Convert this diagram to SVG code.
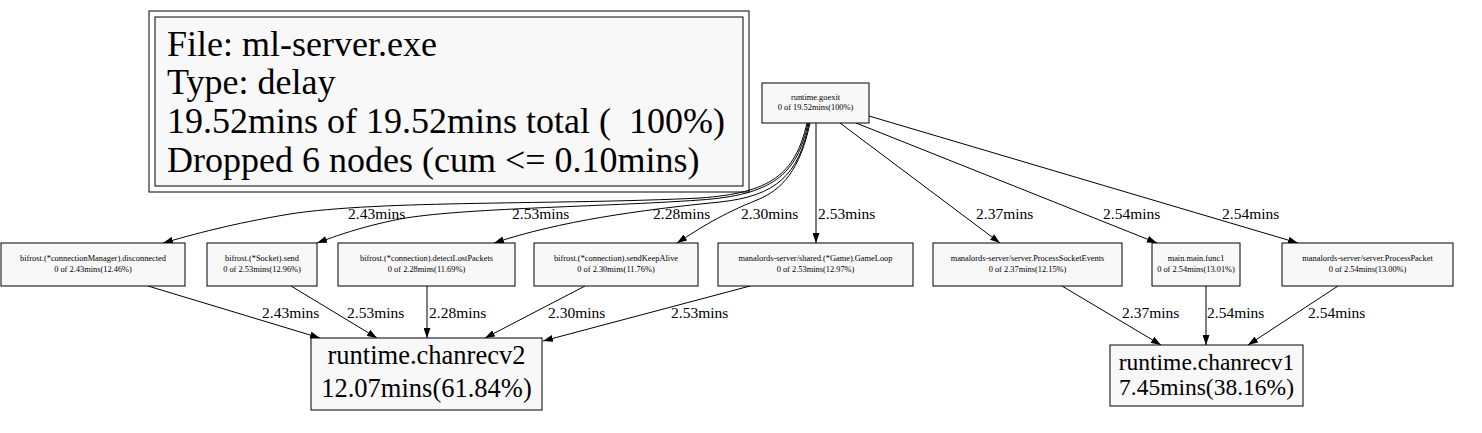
<svg xmlns="http://www.w3.org/2000/svg" width="1482" height="433" viewBox="0 0 1482 433">
<style>
text{font-family:'Liberation Serif','Times New Roman',Times,'DejaVu Serif',serif;fill:#000}
.box{fill:#f8f8f8;stroke:#000;stroke-width:1}
.sm{font-size:8.4px;text-anchor:middle}
.lbl{font-size:15.5px}
.edge{fill:none;stroke:#000;stroke-width:1;marker-end:url(#ah)}
</style>
<defs>
<marker id="ah" viewBox="0 0 10 7" refX="10" refY="3.5" markerWidth="10" markerHeight="7" markerUnits="userSpaceOnUse" orient="auto">
<path d="M0,0 L10,3.5 L0,7 Z" fill="#000"/>
</marker>
</defs>
<rect width="1482" height="433" fill="#fff"/>
<g id="legend">
<rect x="149" y="11" width="600" height="181" fill="none" stroke="#000"/>
<rect x="155" y="17" width="588" height="169" class="box"/>
<text x="167" y="56" font-size="36" font-family="Liberation Serif, serif">File: ml-server.exe</text>
<text x="167" y="94" font-size="36" font-family="Liberation Serif, serif">Type: delay</text>
<text x="167" y="133" font-size="36" font-family="Liberation Serif, serif" xml:space="preserve">19.52mins of 19.52mins total (  100%)</text>
<text x="167" y="172" font-size="36" font-family="Liberation Serif, serif">Dropped 6 nodes (cum &lt;= 0.10mins)</text>
</g>
<g id="edges">
<path class="edge" d="M807,123 C795,175 770,193 700,198 C560,205 380,200 290,214 C230,224 195,234 163,243"/>
<path class="edge" d="M808,123 C797,175 772,195 700,200 C600,207 460,208 400,219 C360,227 336,236 317,243"/>
<path class="edge" d="M809,123 C799,175 776,196 720,202 C640,210 560,221 494,243"/>
<path class="edge" d="M810,123 C800,170 782,190 757,200 C722,214 700,228 677,243"/>
<path class="edge" d="M816,123 L816,243"/>
<path class="edge" d="M840,123 L1000,243"/>
<path class="edge" d="M856,123 L1157,243"/>
<path class="edge" d="M869,116 L1298,243"/>
<path class="edge" d="M148,286 L320,338"/>
<path class="edge" d="M291,286 L377,338"/>
<path class="edge" d="M427,286 L427,338"/>
<path class="edge" d="M585,286 L485,338"/>
<path class="edge" d="M750,286 L543,341"/>
<path class="edge" d="M1062,286 L1161,345"/>
<path class="edge" d="M1206,286 L1206,345"/>
<path class="edge" d="M1338,286 L1248,345"/>
<text class="lbl" x="348" y="219">2.43mins</text>
<text class="lbl" x="512" y="219">2.53mins</text>
<text class="lbl" x="653" y="219">2.28mins</text>
<text class="lbl" x="741" y="219">2.30mins</text>
<text class="lbl" x="818" y="219">2.53mins</text>
<text class="lbl" x="976" y="219">2.37mins</text>
<text class="lbl" x="1103" y="219">2.54mins</text>
<text class="lbl" x="1222" y="219">2.54mins</text>
<text class="lbl" x="262" y="318">2.43mins</text>
<text class="lbl" x="347" y="318">2.53mins</text>
<text class="lbl" x="429" y="318">2.28mins</text>
<text class="lbl" x="548" y="318">2.30mins</text>
<text class="lbl" x="671" y="318">2.53mins</text>
<text class="lbl" x="1122" y="318">2.37mins</text>
<text class="lbl" x="1207" y="318">2.54mins</text>
<text class="lbl" x="1308" y="318">2.54mins</text>
</g>
<g id="goexit">
<rect x="762" y="83" width="107" height="40" class="box"/>
<text class="sm" x="815.5" y="100">runtime.goexit</text>
<text class="sm" x="815.5" y="110">0 of 19.52mins(100%)</text>
</g>
<g id="disconnected">
<rect x="1" y="243" width="184" height="43" class="box"/>
<text class="sm" x="93" y="261">bifrost.(*connectionManager).disconnected</text>
<text class="sm" x="93" y="272">0 of 2.43mins(12.46%)</text>
</g>
<g id="send">
<rect x="207" y="243" width="110" height="43" class="box"/>
<text class="sm" x="262" y="261">bifrost.(*Socket).send</text>
<text class="sm" x="262" y="272">0 of 2.53mins(12.96%)</text>
</g>
<g id="detectLostPackets">
<rect x="338" y="243" width="177" height="43" class="box"/>
<text class="sm" x="426.5" y="261">bifrost.(*connection).detectLostPackets</text>
<text class="sm" x="426.5" y="272">0 of 2.28mins(11.69%)</text>
</g>
<g id="sendKeepAlive">
<rect x="534" y="243" width="164" height="43" class="box"/>
<text class="sm" x="616" y="261">bifrost.(*connection).sendKeepAlive</text>
<text class="sm" x="616" y="272">0 of 2.30mins(11.76%)</text>
</g>
<g id="GameLoop">
<rect x="718" y="243" width="195" height="43" class="box"/>
<text class="sm" x="815.5" y="261">manalords-server/shared.(*Game).GameLoop</text>
<text class="sm" x="815.5" y="272">0 of 2.53mins(12.97%)</text>
</g>
<g id="ProcessSocketEvents">
<rect x="933" y="243" width="189" height="43" class="box"/>
<text class="sm" x="1027.5" y="261">manalords-server/server.ProcessSocketEvents</text>
<text class="sm" x="1027.5" y="272">0 of 2.37mins(12.15%)</text>
</g>
<g id="mainfunc1">
<rect x="1152" y="243" width="88" height="43" class="box"/>
<text class="sm" x="1196" y="261">main.main.func1</text>
<text class="sm" x="1196" y="272">0 of 2.54mins(13.01%)</text>
</g>
<g id="ProcessPacket">
<rect x="1282" y="243" width="171" height="43" class="box"/>
<text class="sm" x="1367.5" y="261">manalords-server/server.ProcessPacket</text>
<text class="sm" x="1367.5" y="272">0 of 2.54mins(13.00%)</text>
</g>
<g id="chanrecv2">
<rect x="311" y="338" width="231" height="72" class="box"/>
<text x="426.5" y="364" font-size="26.5" text-anchor="middle">runtime.chanrecv2</text>
<text x="426.5" y="397" font-size="26.5" text-anchor="middle">12.07mins(61.84%)</text>
</g>
<g id="chanrecv1">
<rect x="1110" y="345" width="193" height="61" class="box"/>
<text x="1206.5" y="370" font-size="23.5" text-anchor="middle">runtime.chanrecv1</text>
<text x="1206.5" y="395" font-size="23.5" text-anchor="middle">7.45mins(38.16%)</text>
</g>
</svg>
